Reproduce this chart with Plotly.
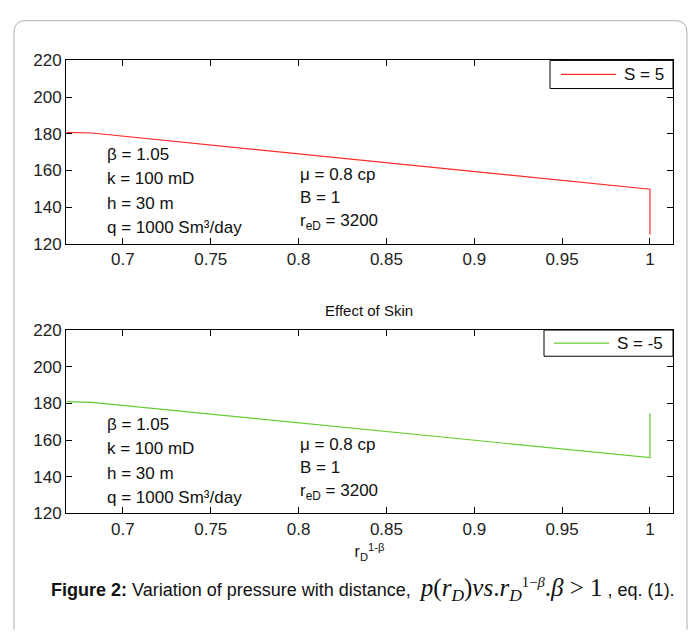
import plotly.graph_objects as go

# ---- data ----
x_rd = [0.668, 0.6824, 1.0, 1.0]
p_skin_pos = [180.7, 180.4, 149.7, 125.0]   # S = 5
p_skin_neg = [181.0, 180.6, 150.4, 174.6]   # S = -5
series_names = ["S = 5", "S = -5"]
series_colors = ["#ff2a2a", "#66cc33"]

x_ticks = [0.7, 0.75, 0.8, 0.85, 0.9, 0.95, 1.0]
x_ticktext = ["0.7", "0.75", "0.8", "0.85", "0.9", "0.95", "1"]
y_ticks = [120, 140, 160, 180, 200, 220]

params_left = ["β = 1.05", "k = 100 mD", "h = 30 m", "q = 1000 Sm³/day"]
params_left_y = [168.6, 155.6, 141.9, 128.7]
params_right = ["μ = 0.8 cp", "B = 1", "r<sub>eD</sub> = 3200"]
params_right_y = [157.7, 145.0, 131.8]

FONT = "Liberation Sans, Arial, sans-serif"
W, H = 696, 632

fig = go.Figure()
fig.add_trace(go.Scatter(x=x_rd, y=p_skin_pos, mode="lines", name=series_names[0],
                         line=dict(color=series_colors[0], width=1.2),
                         xaxis="x", yaxis="y", showlegend=False))
fig.add_trace(go.Scatter(x=x_rd, y=p_skin_neg, mode="lines", name=series_names[1],
                         line=dict(color=series_colors[1], width=1.2),
                         xaxis="x2", yaxis="y2", showlegend=False))


def px_x(p):
    return p / W


def px_y(p):
    return 1 - p / H


axis_common = dict(showline=True, linecolor="black", linewidth=1, mirror="ticks",
                   ticks="inside", ticklen=6, tickcolor="black", showgrid=False,
                   zeroline=False, tickfont=dict(family=FONT, size=17, color="#222"))

xr = [0.6676, 1.0131]
yr = [120, 220]

fig.update_layout(
    width=W, height=H, margin=dict(l=0, r=0, t=0, b=0),
    paper_bgcolor="white", plot_bgcolor="white",
    font=dict(family=FONT, size=17, color="#111"),
    xaxis=dict(domain=[px_x(66), px_x(673)], anchor="y", range=xr,
               tickvals=x_ticks, ticktext=x_ticktext, **axis_common),
    yaxis=dict(domain=[px_y(242), px_y(53)], anchor="x", range=yr,
               tickvals=y_ticks, **axis_common),
    xaxis2=dict(domain=[px_x(66), px_x(673)], anchor="y2", range=xr,
                tickvals=x_ticks, ticktext=x_ticktext,
                title=dict(text="r<sub>D</sub><sup>1-β</sup>", standoff=8,
                           font=dict(family=FONT, size=16)),
                **axis_common),
    yaxis2=dict(domain=[px_y(520), px_y(331)], anchor="x2", range=yr,
                tickvals=y_ticks, **axis_common),
    showlegend=False,
)

annotations = []
for xa, ya in [("x", "y"), ("x2", "y2")]:
    for t, yv in zip(params_left, params_left_y):
        annotations.append(dict(x=0.6898, y=yv, xref=xa, yref=ya, text=t,
                                showarrow=False, xanchor="left", yanchor="middle",
                                font=dict(family=FONT, size=17, color="#111")))
    for t, yv in zip(params_right, params_right_y):
        annotations.append(dict(x=0.7994, y=yv, xref=xa, yref=ya, text=t,
                                showarrow=False, xanchor="left", yanchor="middle",
                                font=dict(family=FONT, size=17, color="#111")))

annotations.append(dict(x=px_x(369), y=px_y(311), xref="paper", yref="paper",
                        text="Effect of Skin", showarrow=False,
                        xanchor="center", yanchor="middle",
                        font=dict(family=FONT, size=15, color="#111")))

caption = ('<b>Figure 2:</b> Variation of pressure with distance,  '
           '<span style="font-family:Liberation Serif, Times New Roman, serif;font-size:25px">'
           '<i>p</i>(<i>r<sub>D</sub></i>)<i>vs</i>.<i>r</i><sub><i>D</i></sub>'
           '<span style="font-size:21px"><sup>1−<i>β</i></sup></span>.<i>β</i> &gt; 1</span> , eq. (1).')
annotations.append(dict(x=px_x(363), y=px_y(599), xref="paper", yref="paper",
                        text=caption, showarrow=False,
                        xanchor="center", yanchor="middle",
                        font=dict(family=FONT, size=18, color="#111")))

# legend boxes (drawn in pixel positions converted to paper coordinates)
legend_boxes = [
    dict(x0=550, x1=673, y0=53, y1=82, lx0=561, lx1=616, tx=622),
    dict(x0=544, x1=673, y0=331, y1=358, lx0=554, lx1=609, tx=615),
]
for box, name, col in zip(legend_boxes, series_names, series_colors):
    fig.add_shape(type="rect", xref="paper", yref="paper",
                  x0=px_x(box["x0"]), x1=px_x(box["x1"]),
                  y0=px_y(box["y1"]), y1=px_y(box["y0"]),
                  line=dict(color="black", width=1), fillcolor="white", layer="above")
    ym = (box["y0"] + box["y1"]) / 2
    fig.add_shape(type="line", xref="paper", yref="paper",
                  x0=px_x(box["lx0"]), x1=px_x(box["lx1"]), y0=px_y(ym), y1=px_y(ym),
                  line=dict(color=col, width=1.2), layer="above")
    annotations.append(dict(x=px_x(box["tx"]), y=px_y(ym), xref="paper", yref="paper",
                            text=name, showarrow=False, xanchor="left", yanchor="middle",
                            font=dict(family=FONT, size=17, color="#111")))

fig.update_layout(annotations=annotations)

# outer rounded frame
r = 12
x0, y0, x1, y1 = 14, 12, 687, 640
path = (f"M {x0},{y1} L {x0},{y0 + r} Q {x0},{y0} {x0 + r},{y0} "
        f"L {x1 - r},{y0} Q {x1},{y0} {x1},{y0 + r} L {x1},{y1}")


def conv(path_str):
    out = []
    for tok in path_str.split():
        if "," in tok:
            a, b = tok.split(",")
            out.append(f"{float(a) / W:.5f},{1 - float(b) / H:.5f}")
        else:
            out.append(tok)
    return " ".join(out)


fig.add_shape(type="path", path=conv(path), xref="paper", yref="paper",
              line=dict(color="#b0b0b0", width=1))

fig.write_html("out.html")
